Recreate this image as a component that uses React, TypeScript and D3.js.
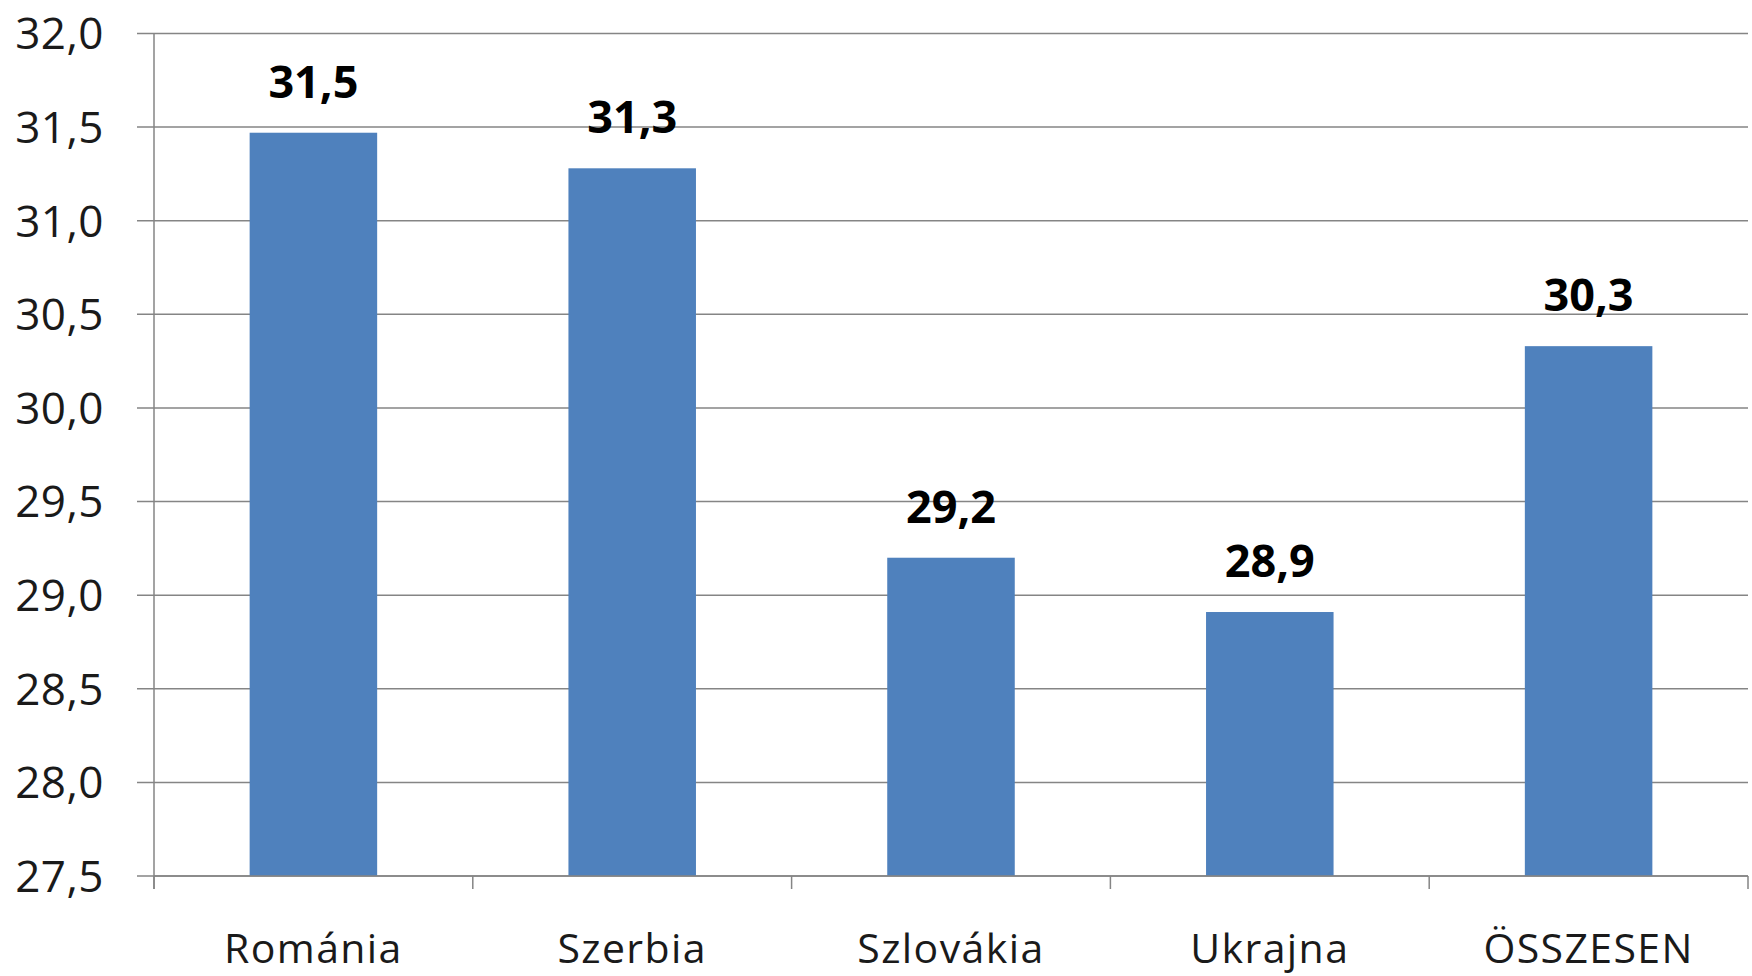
import React from "react";
import * as d3 from "d3";

const categories = ["Románia", "Szerbia", "Szlovákia", "Ukrajna", "ÖSSZESEN"];
const values = [31.47, 31.28, 29.2, 28.91, 30.33];
const yTicks = [27.5, 28.0, 28.5, 29.0, 29.5, 30.0, 30.5, 31.0, 31.5, 32.0];

const W = 1752;
const H = 976;
const left = 154;
const right = 1748;
const top = 33.5;
const bottom = 876;

const fmt = (v: number) => v.toFixed(1).replace(".", ",");

export default function App() {
  const x = d3
    .scaleBand<string>()
    .domain(categories)
    .range([left, right])
    .paddingInner(0.6)
    .paddingOuter(0.3);
  const y = d3.scaleLinear().domain([27.5, 32]).range([bottom, top]);
  const step = x.step();
  const boundaries = d3.range(categories.length + 1).map((i) => left + i * step);
  const font = "'Open Sans', sans-serif";
  const grid = "#858585";

  return (
    <svg
      width={W}
      height={H}
      style={{ position: "absolute", left: 0, top: 0, background: "#fff" }}
    >
      {yTicks.map((t) => (
        <g key={t}>
          <line x1={137} x2={right} y1={y(t)} y2={y(t)} stroke={grid} strokeWidth={1.5} />
          <text
            x={104}
            y={y(t)}
            dy="0.36em"
            textAnchor="end"
            fontFamily={font}
            fontSize={44}
            letterSpacing={0.5}
            fill="#1a1a1a"
          >
            {fmt(t)}
          </text>
        </g>
      ))}
      <line x1={left} x2={left} y1={top} y2={bottom + 13} stroke={grid} strokeWidth={1.5} />
      {boundaries.map((b, i) => (
        <line key={i} x1={b} x2={b} y1={bottom} y2={bottom + 13} stroke={grid} strokeWidth={1.5} />
      ))}
      {categories.map((c, i) => (
        <g key={c}>
          <rect
            x={x(c)}
            y={y(values[i])}
            width={x.bandwidth()}
            height={bottom - y(values[i])}
            fill="#4F81BD"
          />
          <text
            x={(x(c) as number) + x.bandwidth() / 2}
            y={y(values[i]) - 35}
            textAnchor="middle"
            fontFamily={font}
            fontWeight="bold"
            fontSize={45}
            fill="#000"
          >
            {fmt(values[i])}
          </text>
          <text
            x={(x(c) as number) + x.bandwidth() / 2}
            y={963}
            textAnchor="middle"
            fontFamily={font}
            fontSize={41}
            letterSpacing={1.4}
            fill="#1a1a1a"
          >
            {c}
          </text>
        </g>
      ))}
      <line x1={left} x2={right} y1={bottom} y2={bottom} stroke={grid} strokeWidth={1.5} />
    </svg>
  );
}
